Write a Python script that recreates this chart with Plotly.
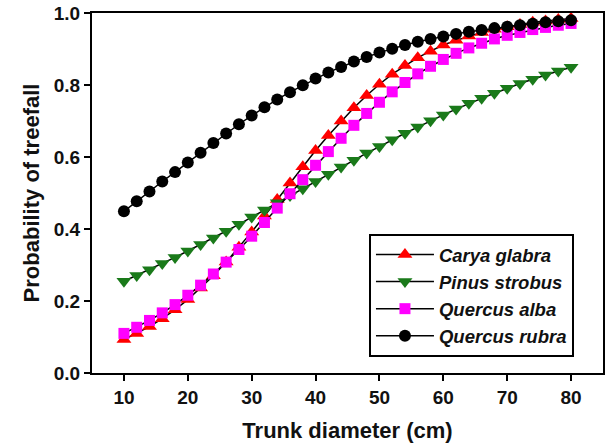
import plotly.graph_objects as go

diameter = list(range(10, 81, 2))

carya_glabra = [0.093, 0.110, 0.129, 0.151, 0.176, 0.204, 0.236, 0.270, 0.308, 0.349,
                0.392, 0.436, 0.482, 0.528, 0.573, 0.618, 0.660, 0.700, 0.737, 0.771,
                0.802, 0.830, 0.854, 0.876, 0.894, 0.911, 0.924, 0.936, 0.946, 0.955,
                0.962, 0.968, 0.974, 0.978, 0.982, 0.985]

pinus_strobus = [0.255, 0.271, 0.287, 0.304, 0.321, 0.339, 0.357, 0.375, 0.394, 0.413,
                 0.433, 0.453, 0.473, 0.493, 0.512, 0.532, 0.552, 0.572, 0.591, 0.611,
                 0.629, 0.648, 0.666, 0.683, 0.701, 0.717, 0.733, 0.749, 0.763, 0.777,
                 0.791, 0.804, 0.816, 0.828, 0.839, 0.849]

quercus_alba = [0.110, 0.127, 0.146, 0.167, 0.190, 0.216, 0.244, 0.275, 0.308, 0.343,
                0.380, 0.418, 0.458, 0.498, 0.537, 0.577, 0.615, 0.652, 0.688, 0.721,
                0.752, 0.781, 0.807, 0.831, 0.852, 0.871, 0.888, 0.903, 0.916, 0.928,
                0.938, 0.946, 0.954, 0.960, 0.966, 0.971]

quercus_rubra = [0.449, 0.477, 0.504, 0.532, 0.558, 0.585, 0.612, 0.639, 0.665, 0.691,
                 0.715, 0.738, 0.760, 0.780, 0.799, 0.818, 0.835, 0.850, 0.865, 0.878,
                 0.890, 0.901, 0.911, 0.920, 0.928, 0.935, 0.942, 0.948, 0.953, 0.958,
                 0.962, 0.966, 0.970, 0.974, 0.977, 0.980]

series = [
    ("Carya glabra", carya_glabra, "triangle-up", "#ff0000", 13),
    ("Pinus strobus", pinus_strobus, "triangle-down", "#1a7a1a", 13),
    ("Quercus alba", quercus_alba, "square", "#ff00ff", 11),
    ("Quercus rubra", quercus_rubra, "circle", "#000000", 12),
]

FONT = "Liberation Sans, Arial, sans-serif"

fig = go.Figure()
for name, vals, sym, col, sz in series:
    fig.add_trace(go.Scatter(
        x=diameter, y=vals, name=name, mode="lines+markers",
        line=dict(color="black", width=1.5),
        marker=dict(symbol=sym, color=col, size=sz, line=dict(width=0)),
    ))

fig.update_layout(
    width=607, height=446,
    margin=dict(l=92, r=2, t=13, b=73),
    plot_bgcolor="white", paper_bgcolor="white",
    font=dict(family=FONT, color="#111111"),
    legend=dict(
        x=0.542, y=0.386, xanchor="left", yanchor="top",
        bgcolor="white", bordercolor="black", borderwidth=2,
        font=dict(family=FONT, size=18.5, style="italic", weight="bold", color="#111111"),
        tracegroupgap=0, itemwidth=58,
    ),
    xaxis=dict(
        range=[5, 85], tickvals=[10, 20, 30, 40, 50, 60, 70, 80],
        showline=True, linecolor="black", linewidth=2, mirror=True,
        ticks="outside", ticklen=6, tickwidth=2, tickcolor="black",
        showgrid=False, zeroline=False,
        tickfont=dict(family=FONT, size=19, weight="bold"),
        title=dict(text="Trunk diameter (cm)", standoff=16,
                   font=dict(family=FONT, size=22, weight="bold")),
    ),
    yaxis=dict(
        range=[0, 1], dtick=0.2, tickformat=".1f",
        showline=True, linecolor="black", linewidth=2, mirror=True,
        ticks="outside", ticklen=6, tickwidth=2, tickcolor="black",
        showgrid=False, zeroline=False,
        tickfont=dict(family=FONT, size=19, weight="bold"),
        title=dict(text="Probability of treefall", standoff=8,
                   font=dict(family=FONT, size=22, weight="bold")),
    ),
)

fig.write_html("out.html")
